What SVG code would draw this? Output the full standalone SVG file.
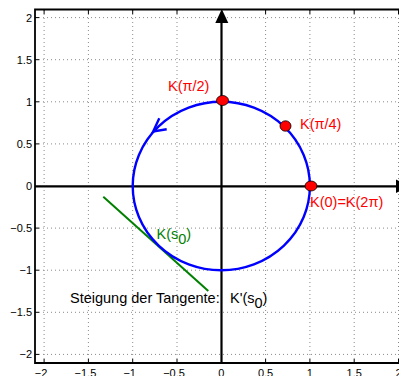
<svg xmlns="http://www.w3.org/2000/svg" width="399" height="376" viewBox="0 0 399 376">
<style>
.grid{stroke:#8a8a8a;stroke-width:1;stroke-dasharray:1 3;fill:none}
.tick{stroke:#000;stroke-width:1}
.tl{font-family:"Liberation Sans",Arial,sans-serif;font-size:11px;fill:#000}
.lbl{font-family:"Liberation Sans",Arial,sans-serif;font-size:14.5px}
.pt{fill:#ff0000;stroke:#000;stroke-width:0.8}
</style>
<rect width="399" height="376" fill="#fff"/>
<g id="grid">
<path class="grid" d="M44.1 10V363M88.4 10V363M132.7 10V363M177 10V363M265.6 10V363M309.9 10V363M354.2 10V363M398.5 10V363"/>
<path class="grid" d="M35 17.6H399M35 59.7H399M35 101.8H399M35 143.9H399M35 228.1H399M35 270.2H399M35 312.3H399M35 354.4H399"/>
</g>
<g id="ticks">
<path class="tick" d="M44.1 10v4M88.4 10v4M132.7 10v4M177 10v4M265.6 10v4M309.9 10v4M354.2 10v4M398.5 10v4M44.1 363v-4M88.4 363v-4M132.7 363v-4M177 363v-4M265.6 363v-4M309.9 363v-4M354.2 363v-4M398.5 363v-4"/>
<path class="tick" d="M35 17.6h4M35 59.7h4M35 101.8h4M35 143.9h4M35 228.1h4M35 270.2h4M35 312.3h4M35 354.4h4"/>
</g>
<g id="frame">
<path d="M407 9.5H35V363H407" fill="none" stroke="#000" stroke-width="1.8"/>
</g>
<g id="ytick-labels" class="tl" text-anchor="end">
<text x="32" y="21.5">2</text>
<text x="32" y="63.6">1.5</text>
<text x="32" y="105.7">1</text>
<text x="32" y="147.8">0.5</text>
<text x="32" y="189.9">0</text>
<text x="32" y="232">−0.5</text>
<text x="32" y="274.1">−1</text>
<text x="32" y="316.2">−1.5</text>
<text x="32" y="358.3">−2</text>
</g>
<g id="xtick-labels" class="tl" text-anchor="middle">
<text x="41" y="377">−2</text>
<text x="85.4" y="377">−1.5</text>
<text x="129.7" y="377">−1</text>
<text x="174" y="377">−0.5</text>
<text x="221.3" y="377">0</text>
<text x="265.6" y="377">0.5</text>
<text x="309.9" y="377">1</text>
<text x="354.2" y="377">1.5</text>
<text x="398.5" y="377">2</text>
</g>
<g id="connectors">
<line x1="221.5" y1="363" x2="221.5" y2="20" stroke="#000" stroke-width="2.2"/>
<polygon points="221.8,9 215.3,23 228.3,23" fill="#000"/>
<line x1="35" y1="186.3" x2="398" y2="186.3" stroke="#000" stroke-width="2.2"/>
<polygon points="396,179.5 396,193 410,186.3" fill="#000"/>
<line x1="103.3" y1="196.7" x2="208.3" y2="291" stroke="#008000" stroke-width="2"/>
</g>
<g id="curve">
<ellipse cx="221.3" cy="186" rx="88.6" ry="84.2" fill="none" stroke="#0000ff" stroke-width="2.4"/>
<path d="M159.3 118.3L153.2 131.5L166.7 129.3" fill="none" stroke="#0000ff" stroke-width="2.4"/>
</g>
<g id="points">
<ellipse class="pt" cx="222.5" cy="100.5" rx="6" ry="5"/>
<ellipse class="pt" cx="285.5" cy="126" rx="5.5" ry="5.2"/>
<ellipse class="pt" cx="311" cy="186" rx="6" ry="5"/>
</g>
<g id="labels">
<text class="lbl" x="168" y="90.8" fill="#ff0000">K(π/2)</text>
<text class="lbl" x="300" y="129" fill="#ff0000">K(π/4)</text>
<text class="lbl" x="310" y="207" fill="#ff0000">K(0)=K(2π)</text>
<text class="lbl" x="156.5" y="239.3" fill="#008000">K(s<tspan dy="5">0</tspan><tspan dy="-5">)</tspan></text>
<text class="lbl" x="70" y="303.3" font-size="14px" fill="#000">Steigung der Tangente:  <tspan x="230">K'(s</tspan><tspan dy="5">0</tspan><tspan dy="-5">)</tspan></text>
</g>
</svg>
